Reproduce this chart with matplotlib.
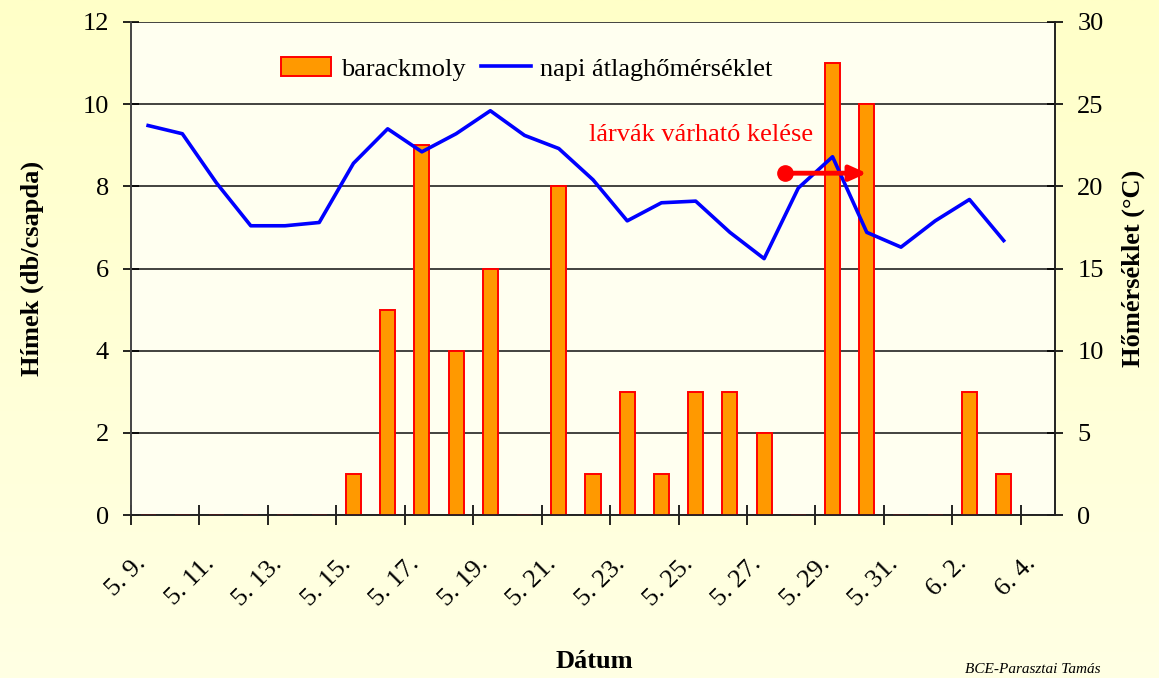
import numpy as np
import matplotlib
matplotlib.use('Agg')
import matplotlib.pyplot as plt
import matplotlib.transforms as mtransforms
from matplotlib.patches import Patch
from matplotlib.lines import Line2D

plt.rcParams['font.family'] = ['Liberation Serif', 'DejaVu Serif']

# days 5.9. .. 6.3.
days = ['5.9.', '5.10.', '5.11.', '5.12.', '5.13.', '5.14.', '5.15.', '5.16.', '5.17.',
        '5.18.', '5.19.', '5.20.', '5.21.', '5.22.', '5.23.', '5.24.', '5.25.', '5.26.',
        '5.27.', '5.28.', '5.29.', '5.30.', '5.31.', '6.1.', '6.2.', '6.3.']
moths = [0, 0, 0, 0, 0, 0, 1, 5, 9, 4, 6, 0, 8, 1, 3, 1, 3, 3, 2, 0, 11, 10, 0, 0, 3, 1]
temps = [23.7, 23.2, 20.2, 17.6, 17.6, 17.8, 21.4, 23.5, 22.1, 23.2, 24.6, 23.1, 22.3,
         20.4, 17.9, 19.0, 19.1, 17.2, 15.6, 19.9, 21.8, 17.2, 16.3, 17.9, 19.2, 16.7]
tick_labels = ['5. 9.', '5. 11.', '5. 13.', '5. 15.', '5. 17.', '5. 19.', '5. 21.',
               '5. 23.', '5. 25.', '5. 27.', '5. 29.', '5. 31.', '6. 2.', '6. 4.']

note_text = 'lárvák várható kelése'
note_xy = (16.67, 9.25)
arrow_start = (19.1, 8.32)
arrow_end = (21.5, 8.32)

fig = plt.figure(figsize=(11.59, 6.78), dpi=100)

# background gradient
bg = fig.add_axes([0, 0, 1, 1], zorder=-10)
grad = np.linspace(0, 1, 256).reshape(-1, 1)
cmap = matplotlib.colors.LinearSegmentedColormap.from_list('bg', ['#FFFFC8', '#FFFFE4'])
bg.imshow(grad, aspect='auto', cmap=cmap, extent=[0, 1, 0, 1])
bg.axis('off')

ax = fig.add_axes([131 / 1159, 1 - 515 / 678, (1055 - 131) / 1159, (515 - 22) / 678])
ax.set_facecolor('#FFFFF0')
ax2 = ax.twinx()

x = np.arange(len(days)) + 0.5
ax.bar(x, moths, width=0.44, color='#FF9900', edgecolor='#FF0000', linewidth=1.4, zorder=3)
ax2.plot(x, temps, color='#0000FF', linewidth=2.6, zorder=4)

ax.set_xlim(0, 27)
ax.set_ylim(0, 12)
ax2.set_ylim(0, 30)
ax.set_yticks(np.arange(0, 13, 2))
ax2.set_yticks(np.arange(0, 31, 5))
ax.set_xticks(np.arange(0, 27, 2))

ax.grid(axis='y', color='#222222', linewidth=1.2, zorder=0)
ax.set_axisbelow(True)
for a in (ax, ax2):
    a.spines['top'].set_visible(False)
    a.spines['left'].set_color('#444444')
    a.spines['right'].set_color('#222222')
    a.spines['bottom'].set_color('#222222')
    for s in a.spines.values():
        s.set_linewidth(1.2)
ax.tick_params(axis='y', direction='inout', length=12, width=1.2, pad=10, labelsize=19)
ax2.tick_params(axis='y', direction='inout', length=12, width=1.2, pad=10, labelsize=19)
ax.tick_params(axis='x', direction='inout', length=14, width=1.2, pad=20, labelsize=19)

ax.set_xticklabels(tick_labels, rotation=45, ha='right', va='top')
offset = mtransforms.ScaledTranslation(0.19, 0, fig.dpi_scale_trans)
for lab in ax.get_xticklabels():
    lab.set_transform(lab.get_transform() + offset)

# annotation
ax2.text(note_xy[0], note_xy[1], note_text, transform=ax.transData, color='#FF0000',
         fontsize=19, ha='center', va='center', zorder=6)
ax2.annotate('', xy=arrow_end, xytext=arrow_start, xycoords=ax.transData,
             textcoords=ax.transData,
             arrowprops=dict(arrowstyle='-|>,head_length=1.0,head_width=0.45',
                             color='#FF0000', lw=3.5, shrinkA=0, shrinkB=0), zorder=6)
ax2.plot([arrow_start[0]], [arrow_start[1]], 'o', color='#FF0000', markersize=11,
         transform=ax.transData, zorder=7, clip_on=False)

handles = [Patch(facecolor='#FF9900', edgecolor='#FF0000', linewidth=1.4),
           Line2D([0], [0], color='#0000FF', linewidth=2.6)]
ax2.legend(handles, ['barackmoly', 'napi átlaghőmérséklet'], loc='center',
           bbox_to_anchor=(0.4286, 0.905), ncol=2, frameon=False, fontsize=19,
           handlelength=1.9, handleheight=0.75, handletextpad=0.35, columnspacing=0.6)

fig.text(32 / 1159, 1 - 268 / 678, 'Hímek (db/csapda)', rotation=90, ha='center',
         va='center', fontsize=19, fontweight='bold')
fig.text(1133 / 1159, 1 - 268 / 678, 'Hőmérséklet (°C)', rotation=90, ha='center',
         va='center', fontsize=19, fontweight='bold')
fig.text(594 / 1159, 1 - 662 / 678, 'Dátum', ha='center', va='center', fontsize=19,
         fontweight='bold')
fig.text(965 / 1159, 2 / 678, 'BCE-Parasztai Tamás', ha='left', va='bottom',
         fontsize=11, style='italic')

fig.savefig('out.png', dpi=100)
